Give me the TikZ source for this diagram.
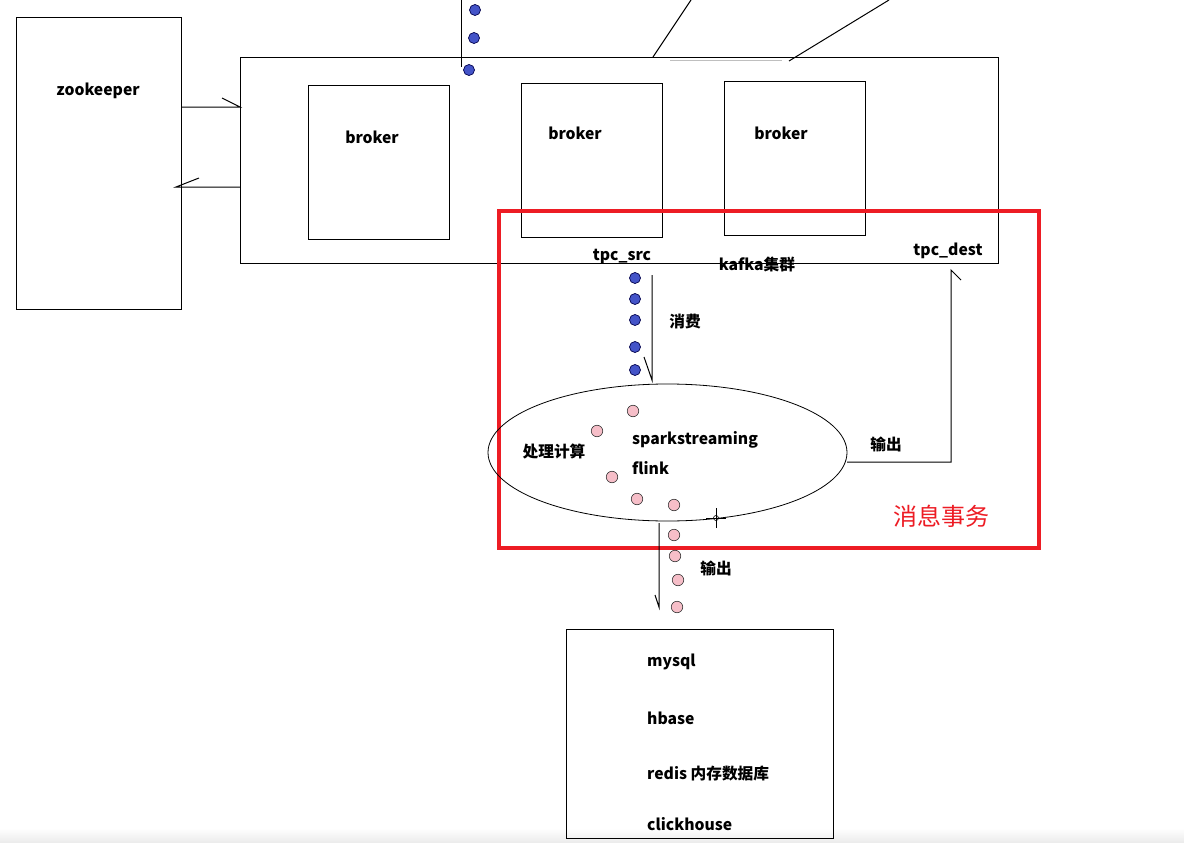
\documentclass[tikz,border=0pt]{standalone}
\usepackage{fontspec}
\setmainfont{Noto Sans CJK SC}
\begin{document}
\begin{tikzpicture}[x=1pt,y=-1pt,
  box/.style={draw=black,line width=1pt},
  lbl/.style={font=\bfseries\fontsize{15.7}{18}\selectfont,inner sep=0pt},
  conn/.style={draw=black,line width=1pt},
  bdot/.style={circle,draw=black!70!blue,fill={rgb,255:red,68;green,84;blue,200},minimum size=11pt,inner sep=0pt,line width=0.7pt},
  pdot/.style={circle,draw=black!80,fill={rgb,255:red,246;green,190;blue,200},minimum size=11.5pt,inner sep=0pt,line width=0.6pt}]
\useasboundingbox (0,0) rectangle (1184,843);
\fill[white] (0,0) rectangle (1184,843);
\shade[top color=white,bottom color=black!8] (0,828) rectangle (1184,843);

% zookeeper
\draw[box] (16,18) rectangle (181,309);
\node[lbl] (zk) at (98,91) {zookeeper};

% kafka cluster
\draw[box] (240,58) rectangle (998,263);
\draw[black!25,line width=0.8pt] (670,60) -- (782,60);
\draw[box] (308,86) rectangle (449,239);
\draw[box] (521,84) rectangle (662,237);
\draw[box] (724,82) rectangle (865,235);
\node[lbl] (b1) at (372,137) {broker};
\node[lbl] (b2) at (575,133) {broker};
\node[lbl] (b3) at (781,133) {broker};

% zookeeper <-> kafka
\coordinate (zkA) at (181,107); \coordinate (kA) at (240,107); \coordinate (kAb) at (222,98);
\draw[conn] (zkA) -- (kA) -- (kAb);
\coordinate (kB) at (240,187); \coordinate (zkB) at (176,187); \coordinate (zkBb) at (199,178);
\draw[conn] (kB) -- (zkB) -- (zkBb);

% top lines and dots
\coordinate (t1a) at (461,0); \coordinate (t1b) at (461,67);
\draw[conn] (t1a) -- (t1b);
\coordinate (t2a) at (653,57); \coordinate (t2b) at (691,0);
\draw[conn] (t2a) -- (t2b);
\coordinate (t3a) at (789,61); \coordinate (t3b) at (889,0);
\draw[conn] (t3a) -- (t3b);
\node[bdot] (d1) at (475,10) {};
\node[bdot] (d2) at (474,38) {};
\node[bdot] (d3) at (469,70) {};

% red box
\draw[draw={rgb,255:red,237;green,28;blue,36},line width=4pt] (499,211) rectangle (1039,548);
\node[font=\fontsize{24}{26}\selectfont,text={rgb,255:red,237;green,28;blue,36},inner sep=0pt] (tx) at (941,516) {消息事务};

% topic labels
\node[lbl] (src) at (622,256) {tpc\_src};
\node[lbl] (kc) at (757,264) {kafka集群};
\node[lbl] (dest) at (948,251) {tpc\_dest};

% blue dots
\foreach \y [count=\i] in {278,299,320,347,370} \node[bdot] (s\i) at (635,\y) {};

% consume arrow
\coordinate (cA) at (652,275); \coordinate (cB) at (652,380); \coordinate (cBb) at (644,357);
\draw[conn] (cA) -- (cB) -- (cBb);
\node[lbl] (xf) at (685,322) {消费};

% ellipse
\draw[conn,line width=0.8pt] (667.5,452.5) ellipse [x radius=179.5,y radius=68.5];
\node[lbl] (cl) at (554,452) {处理计算};
\node[lbl,anchor=west] (sp) at (632,440) {sparkstreaming};
\node[lbl,anchor=west] (fl) at (632,468) {flink};

% pink dots
\foreach \x/\y [count=\i] in {633/411,597/431,612/477,637/499,674/505,674/535,675/556,678/580,677/607} \node[pdot] (p\i) at (\x,\y) {};

% output right
\coordinate (oA) at (847,462); \coordinate (oB) at (951,462); \coordinate (oC) at (951,270); \coordinate (oCb) at (961,280);
\draw[conn] (oA) -- (oB) -- (oC) -- (oCb);
\node[lbl] (sc1) at (886,444) {输出};

% output down
\coordinate (dA) at (659,523); \coordinate (dB) at (659,607); \coordinate (dBb) at (655,595);
\draw[conn] (dA) -- (dB) -- (dBb);
\node[lbl] (sc2) at (716,568) {输出};

% cursor mark
\coordinate (cur) at (716,518);
\draw[black,line width=0.6pt] (cur) circle (2.5pt);
\draw[black,line width=0.6pt] ([yshift=-10pt]cur) -- ([yshift=10pt]cur);
\draw[black,line width=0.6pt] ([xshift=-10pt]cur) -- ([xshift=10pt]cur);

% storage box
\draw[box] (566,629) rectangle (833,838);
\node[lbl,anchor=west] (m1) at (647,662) {mysql};
\node[lbl,anchor=west] (m2) at (647,718) {hbase};
\node[lbl,anchor=west] (m3) at (647,774) {redis 内存数据库};
\node[lbl,anchor=west] (m4) at (647,824) {clickhouse};
\end{tikzpicture}
\end{document}
